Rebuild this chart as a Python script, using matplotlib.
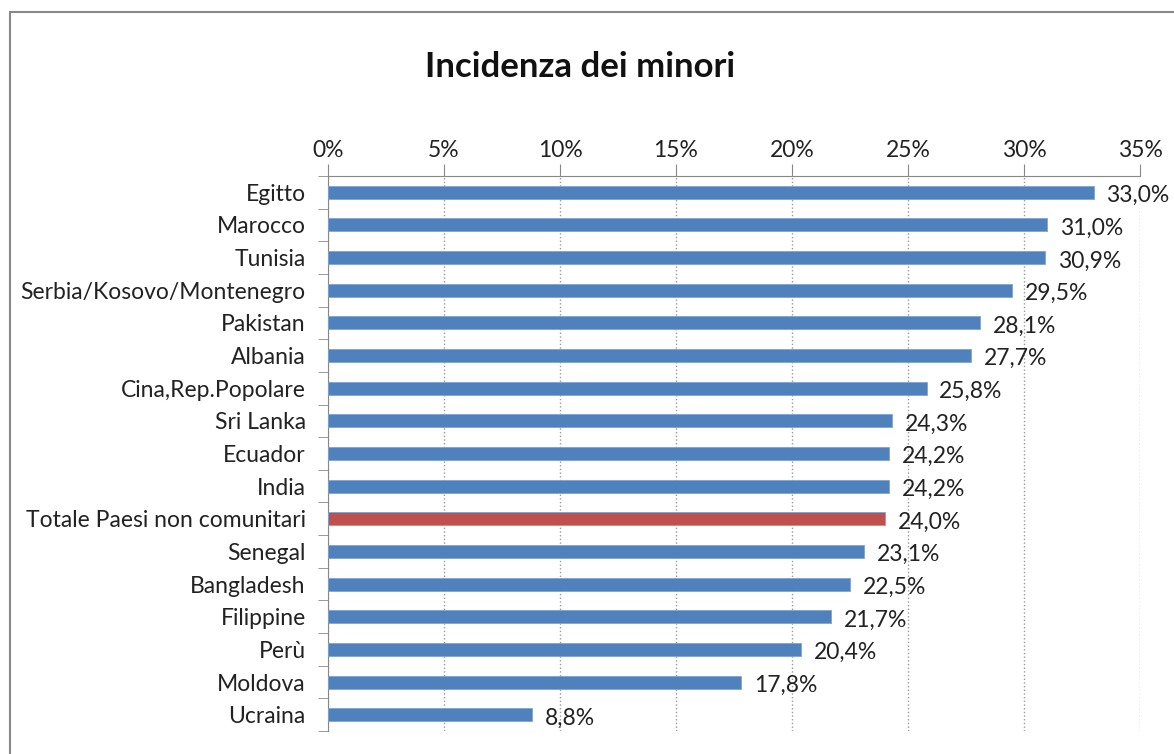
import numpy as np
import matplotlib.pyplot as plt
from matplotlib.patches import Rectangle

# dati
paesi = ["Egitto", "Marocco", "Tunisia", "Serbia/Kosovo/Montenegro", "Pakistan",
         "Albania", "Cina,Rep.Popolare", "Sri Lanka", "Ecuador", "India",
         "Totale Paesi non comunitari", "Senegal", "Bangladesh", "Filippine",
         "Perù", "Moldova", "Ucraina"]
valori = [33.0, 31.0, 30.9, 29.5, 28.1, 27.7, 25.8, 24.3, 24.2, 24.2,
          24.0, 23.1, 22.5, 21.7, 20.4, 17.8, 8.8]
xticks = [0, 5, 10, 15, 20, 25, 30, 35]

plt.rcParams['font.family'] = ['Lato', 'DejaVu Sans']

fig = plt.figure(figsize=(11.74, 7.54), dpi=100)
W, H = 1174, 754
ax = fig.add_axes([328 / W, 1 - 731 / H, (1140 - 328) / W, (731 - 176) / H])

y = np.arange(len(paesi))
colori = ['#C0504D' if p.startswith('Totale') else '#4F81BD' for p in paesi]
ax.barh(y, valori, height=0.4, color=colori, edgecolor='#7FA3D0', linewidth=0.6, zorder=3)

for yi, v in zip(y, valori):
    ax.text(v + 0.55, yi + 0.1, f"{v:.1f}%".replace('.', ','), va='center', ha='left',
            fontsize=16.5, color='#222222')

ax.set_xlim(0, 35)
ax.set_ylim(len(paesi) - 0.5, -0.5)
ax.xaxis.tick_top()
ax.set_xticks(xticks)
ax.set_xticklabels([f"{t}%" for t in xticks], fontsize=16.5, color='#222222')
ax.tick_params(axis='x', length=9, color='#888888', pad=2)
ax.set_yticks(y)
ax.set_yticklabels(paesi, fontsize=16.5, color='#222222')
ax.set_yticks(np.arange(-0.5, len(paesi), 1), minor=True)
ax.tick_params(axis='y', which='major', length=0, pad=16)
ax.tick_params(axis='y', which='minor', length=7, color='#888888')
ax.grid(axis='x', linestyle=':', color='#999999', linewidth=1, zorder=0)

for s in ['right', 'bottom']:
    ax.spines[s].set_visible(False)
for s in ['top', 'left']:
    ax.spines[s].set_color('#888888')

fig.text(580 / W, 1 - 67 / H, "Incidenza dei minori", ha='center', va='center',
         fontsize=25, fontweight='bold', color='#111111')

# bordo esterno
fig.patches.append(Rectangle((10 / W, -0.1), 1.2, 1 - 12 / H + 0.1, transform=fig.transFigure,
                             fill=False, edgecolor='#888888', linewidth=1.5))

fig.savefig('out.png', dpi=100)
